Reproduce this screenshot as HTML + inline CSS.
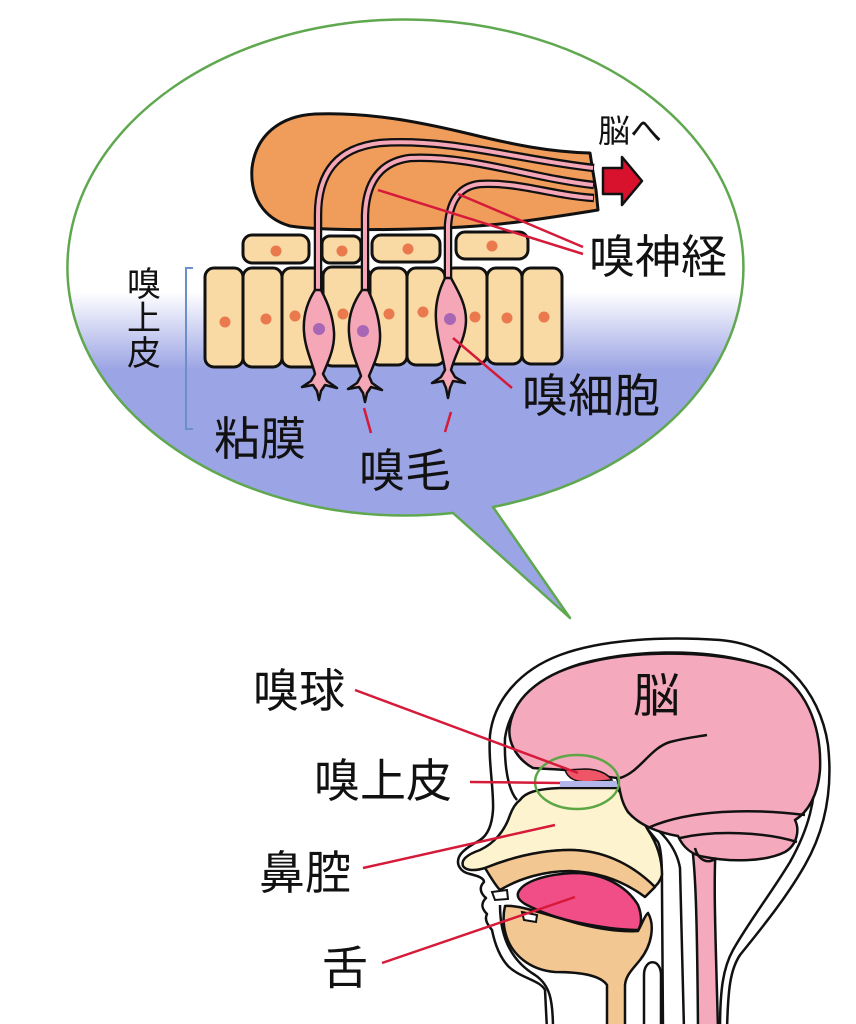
<!DOCTYPE html>
<html>
<head>
<meta charset="utf-8">
<style>
html,body{margin:0;padding:0;background:#fff;}
svg{display:block;}
text{font-family:"Liberation Sans","Noto Sans CJK JP",sans-serif;fill:#111;}
</style>
</head>
<body>
<svg width="856" height="1024" viewBox="0 0 856 1024" xmlns="http://www.w3.org/2000/svg">
<defs>
<linearGradient id="bg" gradientUnits="userSpaceOnUse" x1="0" y1="292" x2="0" y2="370">
<stop offset="0" stop-color="#ffffff"/>
<stop offset="1" stop-color="#9ba4e4"/>
</linearGradient>
</defs>

<!-- speech bubble -->
<path d="M453,513 L570,618 L493,507 A338 248 0 1 0 453,513 Z" fill="url(#bg)" stroke="#5fa84f" stroke-width="2.5" stroke-linejoin="round"/>

<!-- orange nerve bundle -->
<path d="M598,210 C560,216 530,221 500,224 C440,230 330,232 290,226 C262,218 250,195 252,168 C256,135 280,116 315,114 C370,112 420,122 470,134 C515,145 550,152 590,153 L593,172 L596,190 Z" fill="#f09d5c" stroke="#111" stroke-width="3" stroke-linejoin="round"/>

<!-- top row flat cells -->
<g fill="#f9d9a4" stroke="#111" stroke-width="3">
<rect x="243" y="235" width="66" height="28" rx="9"/>
<rect x="322" y="236" width="39" height="27" rx="8"/>
<rect x="372" y="235" width="68" height="27" rx="9"/>
<rect x="456" y="232" width="72" height="27" rx="9"/>
</g>
<g fill="#ea7a4e">
<circle cx="276" cy="251" r="5.5"/>
<circle cx="342" cy="251" r="5.5"/>
<circle cx="408" cy="249" r="5.5"/>
<circle cx="492" cy="246" r="5.5"/>
</g>

<!-- columnar cells -->
<g fill="#f9d9a4" stroke="#111" stroke-width="3">
<rect x="205" y="268" width="38" height="99" rx="9"/>
<rect x="243" y="268" width="39" height="99" rx="9"/>
<rect x="282" y="268" width="41" height="99" rx="9"/>
<rect x="323" y="267" width="47" height="99" rx="9"/>
<rect x="370" y="268" width="37" height="97" rx="9"/>
<rect x="407" y="268" width="38" height="97" rx="9"/>
<rect x="445" y="268" width="42" height="96" rx="9"/>
<rect x="487" y="268" width="35" height="96" rx="9"/>
<rect x="522" y="268" width="40" height="96" rx="9"/>
</g>
<g fill="#ea7a4e">
<circle cx="225" cy="322" r="5.5"/>
<circle cx="266" cy="319" r="5.5"/>
<circle cx="295" cy="316" r="5.5"/>
<circle cx="343" cy="314" r="5.5"/>
<circle cx="389" cy="314" r="5.5"/>
<circle cx="423" cy="312" r="5.5"/>
<circle cx="475" cy="317" r="5.5"/>
<circle cx="507" cy="318" r="5.5"/>
<circle cx="544" cy="317" r="5.5"/>
</g>

<!-- nerve fibers -->
<g fill="none" stroke-linecap="butt">
<g stroke="#111" stroke-width="8.5">
<path d="M318,300 L318,215 C318,175 335,148 380,143 C450,138 520,160 594,168"/>
<path d="M365,300 L365,215 C366,185 378,162 410,158 C470,155 530,178 594,185"/>
<path d="M448,290 L448,225 C450,200 460,186 480,184 C520,182 550,195 594,198"/>
</g>
<g stroke="#f5a7b8" stroke-width="4">
<path d="M318,300 L318,215 C318,175 335,148 380,143 C450,138 520,160 593,168"/>
<path d="M365,300 L365,215 C366,185 378,162 410,158 C470,155 530,178 593,185"/>
<path d="M448,290 L448,225 C450,200 460,186 480,184 C520,182 550,195 593,198"/>
</g>
</g>

<!-- olfactory cells -->
<g fill="#f5a7b8" stroke="#111" stroke-width="2.5" stroke-linejoin="round">
<path d="M315,290 C306,304 303,318 304,332 C305,348 312,362 315,374 L311,381 L302,387 L313,385 L317,391 L319,400 L321,391 L325,385 L337,388 L327,381 L323,374 C328,362 335,348 334,332 C333,316 328,303 321,290 Z"/>
<path d="M362,290 C352,304 348,318 349,333 C350,350 357,364 361,376 L357,383 L348,389 L359,387 L363,393 L365,402 L367,393 L371,387 L382,390 L372,383 L369,376 C374,364 381,350 380,333 C379,316 374,303 368,290 Z"/>
<path d="M445,278 C438,292 435,306 436,320 C437,338 442,352 445,370 L441,377 L432,383 L443,381 L446,388 L448,398 L450,388 L453,381 L465,383 L455,377 L451,370 C456,352 466,338 466,320 C466,304 458,291 451,278 Z"/>
</g>
<g fill="#a867b5">
<circle cx="319" cy="329" r="6"/>
<circle cx="363" cy="331" r="6"/>
<circle cx="450" cy="319" r="6"/>
</g>

<!-- red arrow -->
<path d="M603,168 L622,168 L622,157 L642,181 L622,205 L622,194 L603,194 Z" fill="#d8122d" stroke="#111" stroke-width="2.5" stroke-linejoin="round"/>

<!-- label lines upper -->
<g stroke="#d51a3a" stroke-width="2.5" fill="none">
<line x1="378" y1="190" x2="583" y2="254"/>
<line x1="458" y1="194" x2="583" y2="247"/>
<line x1="453" y1="338" x2="512" y2="388"/>
<line x1="364" y1="408" x2="371" y2="433"/>
<line x1="451" y1="412" x2="445" y2="432"/>
</g>

<!-- bracket -->
<path d="M193,268 L186,268 L186,429 L193,429" fill="none" stroke="#6b8fc9" stroke-width="2"/>

<!-- upper labels -->
<text x="598" y="142" font-size="32">脳へ</text>
<text x="589" y="273" font-size="46">嗅神経</text>
<text x="522" y="412" font-size="46">嗅細胞</text>
<text x="359" y="487" font-size="46">嗅毛</text>
<text x="214" y="455" font-size="46">粘膜</text>
<text x="127" y="296" font-size="34">嗅</text>
<text x="127" y="330" font-size="34">上</text>
<text x="127" y="365" font-size="34">皮</text>

<!-- ===== HEAD ===== -->
<!-- outer silhouette -->
<path d="M547,1030 L545,990 C540,980 520,978 508,966 C498,955 494,940 492,930 C488,925 484,920 487,914 C481,908 481,903 486,898 C480,893 479,887 484,882 C484,878 478,876 470,874 C460,872 456,864 459,857 C462,850 472,845 480,840 C488,835 492,825 493,810 C494,790 488,760 490,735 C494,700 520,670 560,655 C600,640 660,636 720,640 C780,645 820,690 828,745 C833,790 825,830 805,865 C785,900 760,930 740,955 C730,970 728,990 727,1030 Z" fill="#fff" stroke="#111" stroke-width="2.5" stroke-linejoin="round"/>

<!-- skull inner line -->
<path d="M517,800 C508,790 504,765 505,738 C510,705 535,678 580,664 C630,650 700,648 750,662 C790,676 812,712 815,758 C817,800 808,830 790,862 C770,895 750,920 733,950 C723,968 720,990 720,1030" fill="none" stroke="#111" stroke-width="2.5"/>

<!-- back-of-throat lines -->
<g fill="none" stroke="#111" stroke-width="2.5">
<path d="M617,790 C628,808 645,825 658,842 C662,850 662,870 662,890 L663,1030"/>
<path d="M640,815 C660,830 676,845 680,868 L684,1030"/>
<path d="M644,1030 L644,975 C644,958 661,958 661,975 L661,1030"/>
<path d="M500,905 C500,935 510,960 535,975 C550,985 553,1000 553,1030"/>
</g>

<!-- nasal cavity -->
<path d="M520,800 C525,793 535,789 560,788 L617,788 C625,800 640,815 648,830 C658,845 662,860 662,875 C660,882 656,886 653,888 C630,862 600,850 570,850 C540,850 510,858 485,868 C475,871 466,871 463,866 C461,860 466,855 480,850 C495,843 505,830 510,815 C513,807 516,803 520,800 Z" fill="#fdf4cf" stroke="#111" stroke-width="2.5" stroke-linejoin="round"/>

<!-- palate -->
<path d="M485,868 C510,858 540,850 570,850 C600,850 630,862 655,887 L645,897 C625,882 600,872 570,871 C545,871 520,878 500,890 C495,885 490,876 485,868 Z" fill="#f3c792" stroke="#111" stroke-width="2.5" stroke-linejoin="round"/>
<path d="M492,892 L507,890 L508,899 L495,900 Z" fill="#fff" stroke="#111" stroke-width="2"/>

<!-- lower jaw -->
<path d="M505,906 C520,905 540,913 580,924 C600,929 620,932 638,931 C643,922 645,915 648,913 C655,925 652,945 640,960 C632,970 626,975 625,985 L625,1030 L607,1030 L607,985 C600,975 580,972 555,972 C530,970 512,955 506,935 C503,925 503,915 505,906 Z" fill="#f3c792" stroke="#111" stroke-width="2.5" stroke-linejoin="round"/>

<!-- tongue -->
<path d="M518,893 C522,882 545,874 575,873 C605,873 628,888 638,905 C642,915 642,925 638,930 C620,930 600,927 580,923 C560,919 540,912 525,904 C519,900 517,897 518,893 Z" fill="#f14d86" stroke="#111" stroke-width="2.5" stroke-linejoin="round"/>
<path d="M522,912 L537,915 L536,922 L524,920 Z" fill="#fff" stroke="#111" stroke-width="2"/>

<!-- spinal cord -->
<path d="M692,845 C695,870 697,900 698,1030 L718,1030 C716,950 713,880 716,845 Z" fill="#f5a9bc" stroke="#111" stroke-width="2.5"/>

<!-- brain -->
<path d="M533,768 C515,758 507,740 510,725 C515,695 545,672 590,662 C640,650 720,650 770,668 C805,685 822,725 820,770 C818,795 808,812 795,820 C800,830 797,845 785,852 C765,862 730,862 705,857 C690,855 682,845 678,836 C660,833 640,826 628,812 C620,800 620,788 617,778 C600,776 580,772 565,770 C555,769 545,769 533,768 Z" fill="#f5a9bc" stroke="#111" stroke-width="2.5" stroke-linejoin="round"/>
<g fill="none" stroke="#111" stroke-width="2.5">
<path d="M650,827 C690,810 750,808 805,815"/>
<path d="M680,838 C715,830 765,832 797,842"/>
<path d="M620,778 C640,772 650,748 670,742 C685,738 695,737 707,735"/>
<path d="M695,848 C698,860 708,865 716,858"/>
</g>

<!-- olfactory bulb -->
<path d="M565,770 C568,779 576,782 588,782 L612,780 C606,772 595,769 585,769 Z" fill="#ee5566" stroke="#111" stroke-width="1.5"/>
<!-- olfactory epithelium bar -->
<rect x="560" y="781" width="57" height="6" fill="#b3b6ea"/>
<!-- green circle -->
<ellipse cx="577" cy="782" rx="42" ry="27" fill="none" stroke="#5ca646" stroke-width="2.5"/>

<!-- lower label lines -->
<g stroke="#d51a3a" stroke-width="2.5" fill="none">
<line x1="355" y1="690" x2="578" y2="773"/>
<line x1="470" y1="782" x2="560" y2="783"/>
<line x1="363" y1="868" x2="555" y2="825"/>
<line x1="382" y1="963" x2="575" y2="897"/>
</g>

<!-- lower labels -->
<text x="253" y="707" font-size="46">嗅球</text>
<text x="314" y="797" font-size="46">嗅上皮</text>
<text x="259" y="889" font-size="46">鼻腔</text>
<text x="322" y="984" font-size="46">舌</text>
<text x="633" y="712" font-size="47">脳</text>
</svg>
</body>
</html>
